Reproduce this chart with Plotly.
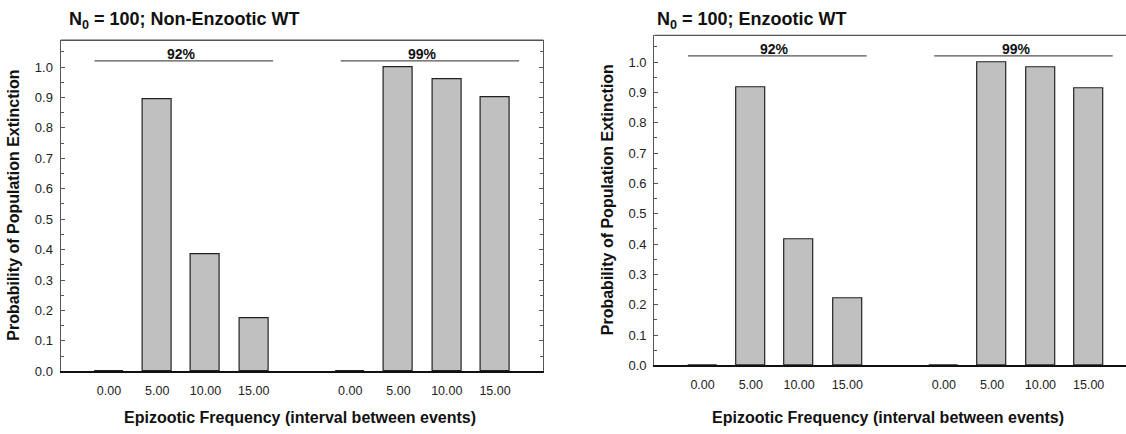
import plotly.graph_objects as go

# ---------------- data ----------------
tick_labels = ["0.00", "5.00", "10.00", "15.00", "0.00", "5.00", "10.00", "15.00"]
bar_positions = [0, 1, 2, 3, 5, 6, 7, 8]

nonenz_92 = [0.0, 0.895, 0.386, 0.173]
nonenz_99 = [0.0, 1.0, 0.960, 0.900]
enz_92 = [0.0, 0.918, 0.416, 0.221]
enz_99 = [0.0, 1.0, 0.983, 0.912]

group_labels = ["92%", "99%"]
group_label_x = [1.5, 6.5]
group_line_start = [-0.3, 4.8]
group_line_end = [3.4, 8.5]
group_line_y = 1.02
group_label_y = 1.043

titles = ["N<sub>0</sub> = 100; Non-Enzootic WT", "N<sub>0</sub> = 100; Enzootic WT"]
x_title = "Epizootic Frequency (interval between events)"
y_title = "Probability of Population Extinction"

FONT = "Liberation Sans, Arial, sans-serif"
W, H = 1126, 434

fig = go.Figure()

panels = [
    (nonenz_92 + nonenz_99, "x", "y"),
    (enz_92 + enz_99, "x2", "y2"),
]
for vals, xa, ya in panels:
    fig.add_trace(go.Bar(
        x=bar_positions, y=vals, width=0.6,
        marker=dict(color="#c0c0c0", line=dict(color="#222222", width=1.2)),
        xaxis=xa, yaxis=ya, showlegend=False, hoverinfo="x+y",
    ))
    for i, lab in enumerate(group_labels):
        fig.add_trace(go.Scatter(
            x=[group_line_start[i], group_line_end[i]], y=[group_line_y, group_line_y],
            mode="lines", line=dict(color="#555555", width=1.3),
            xaxis=xa, yaxis=ya, showlegend=False, hoverinfo="skip",
        ))
        fig.add_annotation(
            x=group_label_x[i], y=group_label_y, xref=xa, yref=ya,
            text="<b>" + lab + "</b>", showarrow=False,
            font=dict(family=FONT, size=14, color="#111111"),
            xanchor="center", yanchor="middle",
        )

# domains (paper fractions)
dom_x1 = [60.7 / W, 543.3 / W]
dom_y1 = [(H - 378.3) / H, (H - 41) / H]
dom_x2 = [654.3 / W, 1.0]
dom_y2 = [(H - 372.3) / H, (H - 36) / H]

xcommon = dict(
    tickmode="array", tickvals=bar_positions, ticktext=tick_labels,
    ticks="", showline=True, linecolor="#111111", linewidth=1.6,
    showgrid=False, zeroline=False,
    tickfont=dict(family=FONT, size=12.5, color="#222222"),
    ticklabelstandoff=7,
)
ycommon = dict(
    range=[0, 1.088], tickmode="linear", tick0=0, dtick=0.1, tickformat=".1f",
    ticks="inside", ticklen=4, tickwidth=1, tickcolor="#555555",
    showline=True, linecolor="#555555", linewidth=1.3,
    showgrid=False, zeroline=False,
    minor=dict(dtick=0.05, ticks="inside", ticklen=3, tickcolor="#555555", tickwidth=1),
    tickfont=dict(family=FONT, size=13, color="#222222"),
    ticklabelstandoff=4,
)

fig.update_layout(
    width=W, height=H,
    margin=dict(l=0, r=0, t=0, b=0),
    paper_bgcolor="white", plot_bgcolor="white",
    bargap=0,
    xaxis=dict(domain=dom_x1, range=[-1, 9], anchor="y", **xcommon),
    yaxis=dict(domain=dom_y1, anchor="x", mirror="ticks", **ycommon),
    xaxis2=dict(domain=dom_x2, range=[-1, 8.774], anchor="y2", **xcommon),
    yaxis2=dict(domain=dom_y2, anchor="x2", mirror=False, **ycommon),
)

# top frame lines
for xr, yr in [("x domain", "y domain"), ("x2 domain", "y2 domain")]:
    fig.add_shape(type="line", xref=xr, yref=yr, x0=0, x1=1, y0=1, y1=1,
                  line=dict(color="#555555", width=1.3))

# panel titles
title_x = [66.7 / W, 655 / W]
for i, t in enumerate(titles):
    fig.add_annotation(
        x=title_x[i], y=1 - 21 / H, xref="paper", yref="paper",
        text="<b>" + t + "</b>", showarrow=False,
        font=dict(family=FONT, size=18, color="#111111"),
        xanchor="left", yanchor="middle",
    )

# axis titles
xt_x = [300 / W, 888 / W]
yt_x = [14 / W, 607 / W]
yt_y = [1 - 209.5 / H, 1 - 204 / H]
for i in range(2):
    fig.add_annotation(
        x=xt_x[i], y=1 - 425.5 / H, xref="paper", yref="paper",
        text="<b>" + x_title + "</b>", showarrow=False,
        font=dict(family=FONT, size=16, color="#111111"),
        xanchor="center", yanchor="middle",
    )
    fig.add_annotation(
        x=yt_x[i], y=yt_y[i], xref="paper", yref="paper",
        text="<b>" + y_title + "</b>", showarrow=False, textangle=-90,
        font=dict(family=FONT, size=16, color="#111111"),
        xanchor="center", yanchor="middle",
    )

fig.write_html("out.html")
